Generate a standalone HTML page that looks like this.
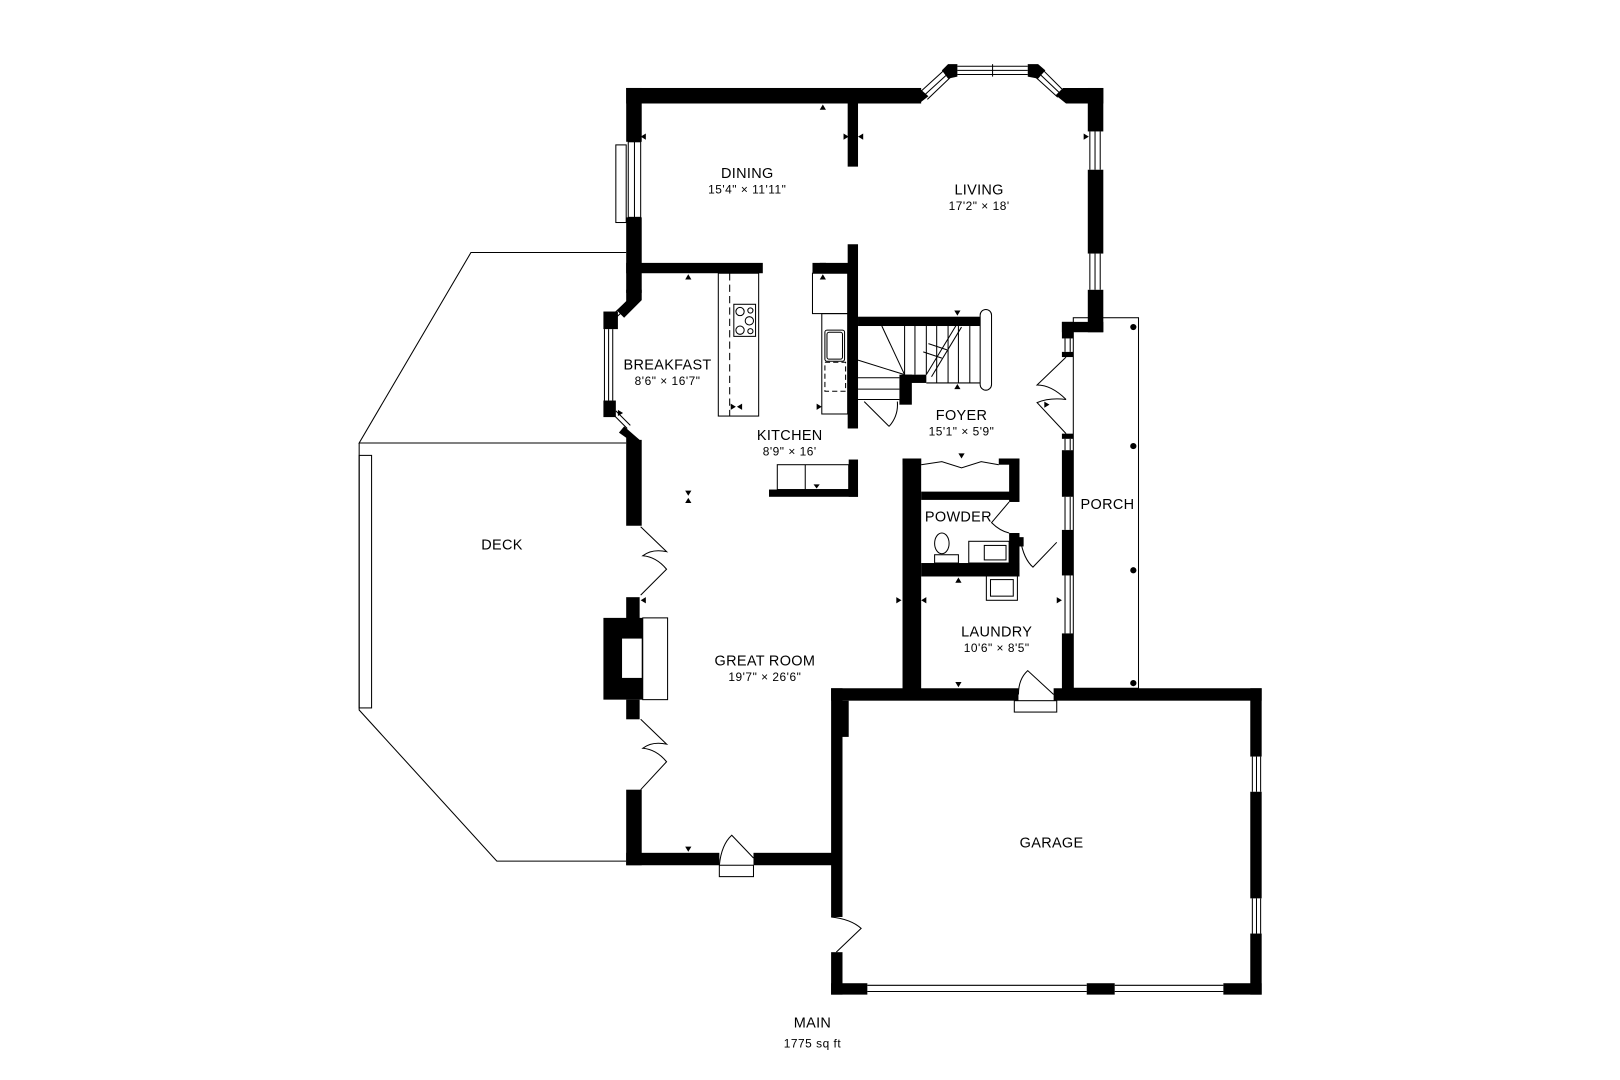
<!DOCTYPE html>
<html><head><meta charset="utf-8"><style>
html,body{margin:0;padding:0;background:#fff;}
svg{display:block;}
text{font-family:"Liberation Sans","DejaVu Sans",sans-serif;fill:#000;text-anchor:middle;}
.n{font-size:14px;letter-spacing:0.3px}
.d{font-size:11.5px;letter-spacing:0.5px}
</style></head><body>
<svg width="1620" height="1080" viewBox="0 0 1565.2 1043.5" xmlns="http://www.w3.org/2000/svg">
<rect x="0" y="0" width="1566" height="1044" fill="#fff"/>
<g fill="none" stroke="#000" stroke-width="1">
<polyline points="605,244 455,244 347,428 605,428"/>
<polyline points="347,428 347,686 480,832 605,832"/>
<rect x="347" y="440" width="12" height="244"/>
<rect x="1037" y="307" width="63" height="358"/>
</g>
<g fill="#000">
<rect x="605" y="85" width="285" height="15"/>
<polygon points="880,85 888,85 897,93 888,100 880,100"/>
<polygon points="910,68 916,62 925,62 925,74 916,76"/>
<polygon points="993,62 1003,62 1010,68 1003,76 993,74"/>
<polygon points="1020,92 1027,85 1066,85 1066,100 1030,100"/>
<rect x="605" y="85" width="15" height="52"/>
<rect x="605" y="210" width="15" height="73"/>
<polygon points="605,280 620,280 620,290 603,307 596,300 605,291"/>
<rect x="583" y="301" width="14" height="17"/>
<rect x="583" y="387" width="12" height="16"/>
<polygon points="603,412 618,425 620,425 620,508 605,508 605,423 598,418"/>
<rect x="819" y="100" width="10" height="61"/>
<rect x="605" y="254" width="132" height="10"/>
<rect x="785" y="254" width="40" height="10"/>
<rect x="819" y="236" width="10" height="178"/>
<rect x="829" y="306" width="118" height="9"/>
<rect x="874" y="362" width="21" height="8"/>
<rect x="869" y="362" width="12" height="29"/>
<rect x="605" y="577" width="13" height="21"/>
<rect x="583" y="597" width="38" height="79"/>
<rect x="605" y="676" width="13" height="19"/>
<rect x="605" y="763" width="15" height="73"/>
<rect x="605" y="824" width="90" height="12"/>
<rect x="728" y="824" width="82" height="12"/>
<rect x="743" y="473" width="86" height="7"/>
<rect x="820" y="444" width="9" height="36"/>
<rect x="1051" y="85" width="15" height="42"/>
<rect x="1051" y="164" width="15" height="81"/>
<rect x="1051" y="280" width="15" height="41"/>
<rect x="1026" y="311" width="40" height="10"/>
<rect x="1026" y="311" width="11" height="16"/>
<rect x="1026" y="340" width="11" height="5"/>
<rect x="1026" y="419" width="11" height="5"/>
<rect x="1026" y="435" width="11" height="45"/>
<rect x="1026" y="512" width="11" height="44"/>
<rect x="1026" y="612" width="11" height="60"/>
<rect x="872" y="443" width="18" height="230"/>
<rect x="965" y="443" width="20" height="6"/>
<rect x="872" y="443" width="18" height="6"/>
<rect x="975" y="443" width="10" height="42"/>
<rect x="890" y="475" width="90" height="8"/>
<rect x="975" y="515" width="10" height="42"/>
<rect x="984" y="519" width="5" height="9"/>
<rect x="890" y="544" width="95" height="13"/>
<rect x="803" y="665" width="181" height="12"/>
<rect x="1018" y="665" width="201" height="12"/>
<rect x="803" y="665" width="11" height="221"/>
<rect x="814" y="677" width="6" height="35"/>
<rect x="803" y="920" width="11" height="41"/>
<rect x="803" y="950" width="35" height="11"/>
<rect x="1050" y="950" width="27" height="11"/>
<rect x="1182" y="950" width="37" height="11"/>
<rect x="1208" y="665" width="11" height="66"/>
<rect x="1208" y="765" width="11" height="103"/>
<rect x="1208" y="902" width="11" height="59"/>
<circle cx="1095" cy="316" r="3"/><circle cx="1095" cy="431" r="3"/>
<circle cx="1095" cy="551" r="3"/><circle cx="1095" cy="660" r="3"/>
<path d="M792,106 L798,106 L795,101 Z"/>
<path d="M624,129 L624,135 L619,132 Z"/>
<path d="M815,129 L815,135 L820,132 Z M834,129 L834,135 L829,132 Z"/>
<path d="M1047,129 L1047,135 L1052,132 Z"/>
<path d="M662,270 L668,270 L665,265 Z"/>
<path d="M792,254 L798,254 L795,259 Z M792,270 L798,270 L795,265 Z"/>
<path d="M922,300 L928,300 L925,305 Z M925,371 L928,376 L922,376 Z"/>
<path d="M597,396 L597,402 L602,399 Z"/>
<path d="M662,474 L668,474 L665,479 Z M662,486 L668,486 L665,481 Z"/>
<path d="M786,468 L792,468 L789,472 Z"/>
<path d="M926,438 L932,438 L929,443 Z"/>
<path d="M923,563 L929,563 L926,558 Z"/>
<path d="M923,659 L929,659 L926,664 Z"/>
<path d="M866,577 L866,583 L871,580 Z M895,577 L895,583 L890,580 Z"/>
<path d="M1021,577 L1021,583 L1026,580 Z"/>
<path d="M624,577 L624,583 L619,580 Z"/>
<path d="M662,818 L668,818 L665,823 Z"/>
<path d="M706,390 L706,396 L711,393 Z M717,390 L717,396 L712,393 Z"/>
<path d="M789,390 L789,396 L794,393 Z"/>
<path d="M1009,388 L1009,394 L1014,391 Z"/>
</g>
<g fill="none" stroke="#000" stroke-width="1">
<rect x="607" y="137" width="12" height="73"/><line x1="613" y1="137" x2="613" y2="210"/>
<rect x="595" y="140" width="10" height="75"/>
<line x1="925" y1="64" x2="993" y2="64"/><line x1="925" y1="68" x2="993" y2="68"/><line x1="925" y1="72" x2="993" y2="72"/>
<line x1="959" y1="62" x2="959" y2="74"/>
<line x1="890" y1="88" x2="912" y2="68"/><line x1="893" y1="92" x2="915" y2="72"/><line x1="896" y1="96" x2="918" y2="75"/>
<line x1="1006" y1="66" x2="1026" y2="86"/><line x1="1003" y1="70" x2="1024" y2="90"/><line x1="1000" y1="74" x2="1022" y2="94"/>
<line x1="1053" y1="127" x2="1053" y2="164"/><line x1="1058" y1="127" x2="1058" y2="164"/><line x1="1063" y1="127" x2="1063" y2="164"/>
<line x1="1053" y1="245" x2="1053" y2="280"/><line x1="1058" y1="245" x2="1058" y2="280"/><line x1="1063" y1="245" x2="1063" y2="280"/>
<line x1="584" y1="318" x2="584" y2="387"/><line x1="588" y1="318" x2="588" y2="387"/><line x1="592" y1="318" x2="592" y2="387"/>
<line x1="592" y1="304" x2="606" y2="291"/><line x1="595" y1="307" x2="609" y2="294"/>
<line x1="592" y1="400" x2="606" y2="414"/><line x1="595" y1="397" x2="609" y2="411"/>
<line x1="1029" y1="327" x2="1029" y2="340"/><line x1="1034" y1="327" x2="1034" y2="340"/>
<line x1="1029" y1="424" x2="1029" y2="435"/><line x1="1034" y1="424" x2="1034" y2="435"/>
<line x1="1029" y1="480" x2="1029" y2="512"/><line x1="1034" y1="480" x2="1034" y2="512"/>
<line x1="1029" y1="556" x2="1029" y2="612"/><line x1="1034" y1="556" x2="1034" y2="612"/>
<line x1="838" y1="952" x2="1050" y2="952"/><line x1="838" y1="958" x2="1050" y2="958"/>
<line x1="1077" y1="952" x2="1182" y2="952"/><line x1="1077" y1="958" x2="1182" y2="958"/>
<line x1="1210" y1="731" x2="1210" y2="765"/><line x1="1214" y1="731" x2="1214" y2="765"/><line x1="1218" y1="731" x2="1218" y2="765"/>
<line x1="1210" y1="868" x2="1210" y2="902"/><line x1="1214" y1="868" x2="1214" y2="902"/><line x1="1218" y1="868" x2="1218" y2="902"/>
</g>
<g fill="none" stroke="#000" stroke-width="1">
<rect x="601" y="617" width="19" height="38" fill="#fff" stroke="none"/>
<rect x="621" y="597" width="24" height="79"/>
<rect x="694" y="264" width="39" height="138"/>
<line x1="705" y1="264" x2="705" y2="402" stroke-dasharray="7,4"/>
<rect x="709" y="294" width="21" height="31"/>
<circle cx="715" cy="301" r="4"/><circle cx="725" cy="300" r="2.5"/><circle cx="724" cy="310" r="4"/>
<circle cx="715" cy="319" r="4"/><circle cx="725" cy="320" r="2.5"/>
<rect x="785" y="264" width="34" height="39"/>
<rect x="794" y="303" width="25" height="97"/>
<rect x="797" y="319" width="19" height="30" rx="2"/><rect x="799" y="321" width="15" height="26" rx="2"/>
<rect x="797" y="350" width="20" height="28" stroke-dasharray="5,3"/>
<rect x="947" y="299" width="11" height="78" rx="5.5"/>
<line x1="874" y1="315" x2="874" y2="362"/><line x1="884" y1="315" x2="884" y2="362"/>
<line x1="895" y1="315" x2="895" y2="362"/><line x1="905" y1="315" x2="905" y2="370"/>
<line x1="916" y1="315" x2="916" y2="370"/><line x1="926" y1="315" x2="926" y2="370"/>
<line x1="937" y1="315" x2="937" y2="370"/>
<line x1="895" y1="370" x2="947" y2="370"/>
<line x1="829" y1="348" x2="874" y2="362"/><line x1="852" y1="315" x2="874" y2="362"/>
<line x1="829" y1="365" x2="869" y2="365"/><line x1="829" y1="376" x2="869" y2="376"/>
<line x1="829" y1="386" x2="869" y2="386"/>
<line x1="895" y1="362" x2="924" y2="314"/><line x1="900" y1="364" x2="929" y2="316"/>
<line x1="892" y1="340" x2="910" y2="346"/><line x1="897" y1="332" x2="915" y2="338"/>
<path d="M835,388 L859,412 M867,388 A32,32 0 0 1 859,412"/>
<rect x="751" y="449" width="69" height="24"/><line x1="778" y1="449" x2="778" y2="473"/>
<path d="M890,449 L910,446 L929,452 L948,446 L965,449"/>
<path d="M975,485 L958,505 Q966,513 975,515"/>
<ellipse cx="910" cy="525" rx="7" ry="10"/>
<rect x="903" y="536" width="23" height="8"/>
<rect x="936" y="523" width="39" height="21"/>
<rect x="951" y="527" width="21" height="14"/>
<rect x="953" y="556" width="30" height="24"/><rect x="957" y="560" width="22" height="16"/>
<path d="M986,522 Q989,540 998,548 L1021,524"/>
<path d="M1030,345 L1002,372 Q1016,372 1030,386"/>
<path d="M1030,419 L1002,389 Q1014,384 1030,386"/>
<path d="M619,509 L644,533 Q630,530 621,537 Q634,538 644,550 L619,575"/>
<path d="M619,695 L644,719 Q630,716 621,723 Q634,724 644,736 L619,763"/>
<path d="M695,836 Q697,816 707,807 L728,829"/>
<rect x="695" y="836" width="33" height="11"/>
<path d="M1018,671 L993,648 Q984,656 984,671"/>
<rect x="980" y="677" width="41" height="11"/>
<path d="M803,886 Q822,888 832,897 L808,920"/>
</g>
<text class="n" x="722" y="172">DINING</text><text class="d" x="722" y="187">15'4" × 11'11"</text>
<text class="n" x="946" y="188">LIVING</text><text class="d" x="946" y="203">17'2" × 18'</text>
<text class="n" x="645" y="357">BREAKFAST</text><text class="d" x="645" y="372">8'6" × 16'7"</text>
<text class="n" x="763" y="425">KITCHEN</text><text class="d" x="763" y="440">8'9" × 16'</text>
<text class="n" x="929" y="406">FOYER</text><text class="d" x="929" y="421">15'1" × 5'9"</text>
<text class="n" x="1070" y="492">PORCH</text>
<text class="n" x="485" y="531">DECK</text>
<text class="n" x="926" y="504">POWDER</text>
<text class="n" x="963" y="615">LAUNDRY</text><text class="d" x="963" y="630">10'6" × 8'5"</text>
<text class="n" x="739" y="643">GREAT ROOM</text><text class="d" x="739" y="658">19'7" × 26'6"</text>
<text class="n" x="1016" y="819">GARAGE</text>
<text class="n" x="785" y="993">MAIN</text><text class="d" x="785" y="1012">1775 sq ft</text>
</svg>
</body></html>
